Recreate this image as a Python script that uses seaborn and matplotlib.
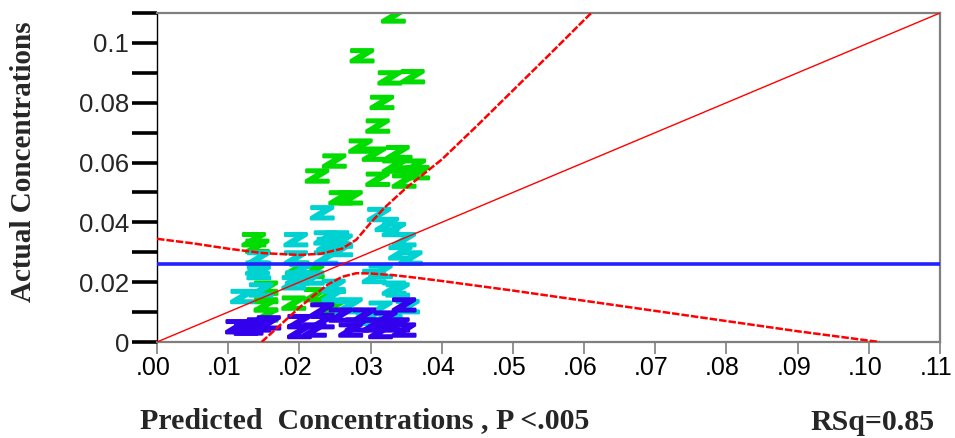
import numpy as np
import pandas as pd
import matplotlib
matplotlib.use("Agg")
import matplotlib.pyplot as plt
import seaborn as sns
from matplotlib.textpath import TextPath
from matplotlib.font_manager import FontProperties
from matplotlib.path import Path
from matplotlib.transforms import ScaledTranslation

# ---------------- data ----------------
green_x = [0.0331, 0.0287, 0.0326, 0.0358, 0.0315, 0.0309, 0.0285, 0.0304, 0.0337,
           0.0248, 0.0332, 0.0360, 0.0341, 0.0224, 0.0309, 0.0346, 0.0365, 0.0257,
           0.0271, 0.0135, 0.0140, 0.0152, 0.0152, 0.0152, 0.0152, 0.0191, 0.0196,
           0.0222, 0.0217, 0.0236, 0.0247]
green_y = [0.1090, 0.0957, 0.0883, 0.0887, 0.0801, 0.0722, 0.0655, 0.0628, 0.0633,
           0.0605, 0.0588, 0.0588, 0.0600, 0.0555, 0.0544, 0.0538, 0.0566, 0.0482,
           0.0482, 0.0342, 0.0320, 0.0180, 0.0152, 0.0124, 0.0090, 0.0130, 0.0247,
           0.0158, 0.0236, 0.0152, 0.0118]

cyan_x = [0.0231, 0.0311, 0.0322, 0.0332, 0.0341, 0.0355, 0.0257, 0.0257, 0.0313,
          0.0332, 0.0351, 0.0247, 0.0271, 0.0313, 0.0295, 0.0327, 0.0194, 0.0236,
          0.0142, 0.0140, 0.0142, 0.0119, 0.0194, 0.0196, 0.0217, 0.0236, 0.0240,
          0.0252, 0.0346, 0.0304, 0.0337, 0.0266, 0.0201, 0.0145, 0.0191, 0.0247]
cyan_y = [0.0432, 0.0426, 0.0393, 0.0376, 0.0298, 0.0281, 0.0337, 0.0309, 0.0236,
          0.0180, 0.0118, 0.0158, 0.0124, 0.0113, 0.0079, 0.0068, 0.0342, 0.0348,
          0.0281, 0.0247, 0.0232, 0.0152, 0.0281, 0.0214, 0.0214, 0.0281, 0.0326,
          0.0348, 0.0342, 0.0219, 0.0174, 0.0118, 0.0242, 0.0174, 0.0198, 0.0186]

blue_x = [0.0112, 0.0124, 0.0131, 0.0142, 0.0156, 0.0199, 0.0199, 0.0231, 0.0231,
          0.0346, 0.0257, 0.0280, 0.0304, 0.0337, 0.0313, 0.0346, 0.0271, 0.0220,
          0.0290, 0.0320]
blue_y = [0.0051, 0.0046, 0.0047, 0.0057, 0.0064, 0.0068, 0.0035, 0.0107, 0.0068,
          0.0124, 0.0090, 0.0057, 0.0057, 0.0057, 0.0035, 0.0040, 0.0040, 0.0040,
          0.0090, 0.0080]

mean_actual = 0.0262
fit_x = [0.0, 0.11]
fit_y = [0.0, 0.11]

upper_curve_x = [0.000, 0.005, 0.010, 0.015, 0.020, 0.023, 0.026, 0.028, 0.030,
                 0.032, 0.035, 0.040, 0.045, 0.050, 0.055, 0.061]
upper_curve_y = [0.0345, 0.0330, 0.0312, 0.0297, 0.0291, 0.0295, 0.0312, 0.0342,
                 0.0398, 0.0450, 0.0515, 0.0610, 0.0724, 0.0841, 0.0958, 0.1100]

lower_curve_x = [0.0147, 0.017, 0.020, 0.022, 0.024, 0.026, 0.028, 0.030, 0.033,
                 0.036, 0.040, 0.050, 0.060, 0.070, 0.080, 0.090, 0.1015]
lower_curve_y = [0.0, 0.0050, 0.0115, 0.0155, 0.0192, 0.0218, 0.0230, 0.0229, 0.0224,
                 0.0216, 0.0204, 0.0172, 0.0138, 0.0104, 0.0070, 0.0036, 0.0]

x_ticks = [0.00, 0.01, 0.02, 0.03, 0.04, 0.05, 0.06, 0.07, 0.08, 0.09, 0.10, 0.11]
x_tick_labels = [".00", ".01", ".02", ".03", ".04", ".05", ".06", ".07", ".08",
                 ".09", ".10", ".11"]
y_ticks = [0.0, 0.02, 0.04, 0.06, 0.08, 0.10]
y_tick_labels = ["0", "0.02", "0.04", "0.06", "0.08", "0.1"]
y_minor_ticks = [0.01, 0.03, 0.05, 0.07, 0.09, 0.11]

groups = ["g", "c", "b"]
palette = {"g": "#00DC00", "c": "#00D2D2", "b": "#3300EE"}

df = pd.DataFrame({
    "pred": green_x + cyan_x + blue_x,
    "actual": green_y + cyan_y + blue_y,
    "grp": ["g"] * len(green_x) + ["c"] * len(cyan_x) + ["b"] * len(blue_x),
})

# ---------------- Z marker ----------------
tp = TextPath((0, 0), "Z", prop=FontProperties(family="DejaVu Sans", weight="bold"))
v = tp.vertices.copy()
v[:, 0] -= (v[:, 0].min() + v[:, 0].max()) / 2
v[:, 1] -= (v[:, 1].min() + v[:, 1].max()) / 2
v[:, 1] *= 0.5
zmarker = Path(v, tp.codes)

# ---------------- figure ----------------
sns.set_style("ticks")
plt.rcParams["font.family"] = ["Liberation Sans", "DejaVu Sans"]

fig = plt.figure(figsize=(9.55, 4.38), dpi=100)
ax = fig.add_axes([157 / 955, 1 - 342 / 438, (940 - 157) / 955, (342 - 13) / 438])

sns.scatterplot(data=df, x="pred", y="actual", hue="grp", hue_order=groups,
                palette=palette, marker=zmarker, s=300, edgecolor="face",
                linewidth=1.8, legend=False, ax=ax, zorder=2)

ax.axhline(mean_actual, color="#2222FF", lw=2.6, zorder=3)
sns.lineplot(x=fit_x, y=fit_y, color="#FF0000", lw=1.0, ax=ax, zorder=4)
sns.lineplot(x=upper_curve_x, y=upper_curve_y, sort=False, estimator=None,
             color="#FF0000", lw=1.8, ax=ax, zorder=4, linestyle=(0, (3, 0.8)))
sns.lineplot(x=lower_curve_x, y=lower_curve_y, sort=False, estimator=None,
             color="#FF0000", lw=1.8, ax=ax, zorder=4, linestyle=(0, (3, 0.8)))

ax.set_xlim(0, 0.11)
ax.set_ylim(0, 0.11)

for side in ["top", "right", "bottom"]:
    ax.spines[side].set_color("#7F7F7F")
    ax.spines[side].set_linewidth(1.6)
ax.spines["left"].set_color("black")
ax.spines["left"].set_linewidth(1.0)

ax.set_xticks(x_ticks)
ax.set_xticklabels(x_tick_labels, fontsize=18)
ax.set_yticks(y_ticks)
ax.set_yticklabels(y_tick_labels, fontsize=18.5)
ax.set_yticks(y_minor_ticks, minor=True)
ax.tick_params(axis="x", direction="out", length=8.5, width=1.2, color="#7F7F7F",
               pad=1.5, labelcolor="black")
ax.tick_params(axis="y", which="both", direction="out", length=18, width=2.6,
               color="black", pad=2)

shift = ScaledTranslation(-4 / 100, 0, fig.dpi_scale_trans)
for lab in ax.get_xticklabels():
    lab.set_transform(lab.get_transform() + shift)

ax.set_xlabel("Predicted  Concentrations , P <.005", family="Liberation Serif",
              weight="bold", fontsize=21.5, ha="left", va="center")
ax.xaxis.set_label_coords((140 - 157) / 783, (342 - 421) / 329)
ax.set_ylabel("Actual Concentrations", family="Liberation Serif", weight="bold",
              fontsize=21, ha="center", va="center")
ax.yaxis.set_label_coords((23 - 157) / 783, (342 - 162) / 329)

fig.text(935 / 955, 1 - 422 / 438, "RSq=0.85", family="Liberation Serif",
         weight="bold", fontsize=21.5, ha="right", va="center")

fig.savefig("out.png", dpi=100)
